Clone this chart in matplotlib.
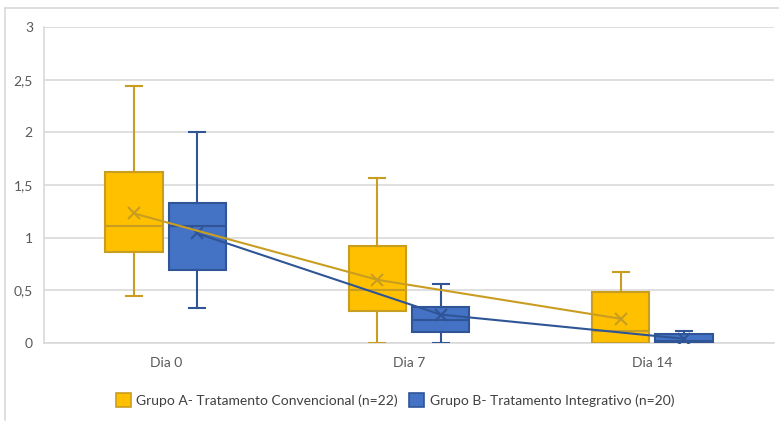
import matplotlib
matplotlib.use("Agg")
import matplotlib.pyplot as plt
from matplotlib.patches import Patch
from matplotlib.lines import Line2D

plt.rcParams['font.family'] = ['Lato', 'DejaVu Sans']

categories = ["Dia 0", "Dia 7", "Dia 14"]
series_names = ["Grupo A- Tratamento Convencional (n=22)",
                "Grupo B- Tratamento Integrativo (n=20)"]

# per-category box statistics: whisker low, q1, median, q3, whisker high, mean
a_whislo = [0.45, 0.00, 0.00]
a_q1     = [0.86, 0.30, 0.00]
a_med    = [1.11, 0.50, 0.11]
a_q3     = [1.62, 0.92, 0.48]
a_whishi = [2.44, 1.57, 0.67]
a_mean   = [1.23, 0.60, 0.23]

b_whislo = [0.33, 0.00, 0.00]
b_q1     = [0.69, 0.10, 0.00]
b_med    = [1.11, 0.22, 0.02]
b_q3     = [1.33, 0.34, 0.09]
b_whishi = [2.00, 0.56, 0.11]
b_mean   = [1.04, 0.27, 0.04]

yticks = [0, 0.5, 1, 1.5, 2, 2.5, 3]
ytick_labels = ["0", "0,5", "1", "1,5", "2", "2,5", "3"]

gold_fill, gold_edge = "#FFC000", "#C99E20"
blue_fill, blue_edge = "#4472C4", "#2F5597"

fig = plt.figure(figsize=(7.79, 4.25), dpi=100)
ax = fig.add_axes([44/779, 1-343/425, (774-44)/779, (343-27)/425])

def stats(wl, q1, md, q3, wh, mn):
    return [dict(whislo=wl[i], q1=q1[i], med=md[i], q3=q3[i], whishi=wh[i],
                 mean=mn[i], fliers=[]) for i in range(len(wl))]

x = list(range(len(categories)))
width = 0.236
off = 0.13

for st, offs, fc, ec, mn in [
        (stats(a_whislo, a_q1, a_med, a_q3, a_whishi, a_mean), -off, gold_fill, gold_edge, a_mean),
        (stats(b_whislo, b_q1, b_med, b_q3, b_whishi, b_mean), off, blue_fill, blue_edge, b_mean)]:
    pos = [xi + offs for xi in x]
    ax.bxp(st, positions=pos, widths=width, capwidths=0.066, patch_artist=True,
           showmeans=True, showfliers=False,
           boxprops=dict(facecolor=fc, edgecolor=ec, linewidth=1.5),
           medianprops=dict(color=ec, linewidth=1.5),
           whiskerprops=dict(color=ec, linewidth=1.5),
           capprops=dict(color=ec, linewidth=1.5),
           meanprops=dict(marker='x', markersize=9, markeredgecolor=ec,
                          markeredgewidth=1.5, markerfacecolor=ec),
           manage_ticks=False, zorder=3)
    ax.plot(pos, mn, color=ec, linewidth=1.5, zorder=4)

ax.set_xlim(-0.5, 2.5)
ax.set_ylim(0, 3)
ax.set_xticks(x)
ax.set_xticklabels(categories)
ax.set_yticks(yticks)
ax.set_yticklabels(ytick_labels)
ax.tick_params(length=0, labelsize=10, colors="#595959", pad=8)
ax.tick_params(axis='x', pad=10)
ax.yaxis.grid(True, color="#D9D9D9", linewidth=1.2, zorder=0)
ax.set_axisbelow(True)
for s in ["top", "right"]:
    ax.spines[s].set_visible(False)
ax.spines["left"].set_color("#D9D9D9")
ax.spines["bottom"].set_color("#D9D9D9")
ax.spines["left"].set_linewidth(1.2)
ax.spines["bottom"].set_linewidth(1.2)

# outer frame lines
fig.add_artist(Line2D([5/779, 1], [1-8/425, 1-8/425], color="#D9D9D9", linewidth=1.2))
fig.add_artist(Line2D([5/779, 5/779], [1-8/425, 1-420/425], color="#D9D9D9", linewidth=1.2))

handles = [Patch(facecolor=gold_fill, edgecolor=gold_edge, linewidth=1.2),
           Patch(facecolor=blue_fill, edgecolor=blue_edge, linewidth=1.2)]
fig.legend(handles, series_names, loc="center", bbox_to_anchor=(395/779, 1-400/425),
           ncol=2, frameon=False, fontsize=10, handlelength=1.1, handleheight=1.1,
           handletextpad=0.4, columnspacing=0.8, labelcolor="#404040")

fig.savefig("out.png", dpi=100, facecolor="white")
